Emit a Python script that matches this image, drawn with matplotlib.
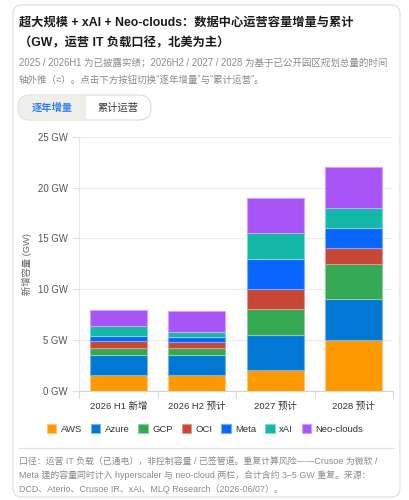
import matplotlib
matplotlib.use("Agg")
import matplotlib.pyplot as plt
from matplotlib.patches import FancyBboxPatch, Rectangle
from matplotlib.lines import Line2D
import matplotlib.colors as mcolors
import numpy as np

FAM = ['Liberation Sans', 'Noto Sans CJK SC', 'DejaVu Sans']
plt.rcParams['font.family'] = FAM

categories = ['2026 H1 新增', '2026 H2 预计', '2027 预计', '2028 预计']
series_names = ['AWS', 'Azure', 'GCP', 'OCI', 'Meta', 'xAI', 'Neo-clouds']
aws = [1.5, 1.5, 2.0, 5.0]
azure = [2.0, 2.0, 3.5, 4.0]
gcp = [0.7, 0.7, 2.5, 3.5]
oci = [0.7, 0.6, 2.0, 1.5]
meta = [0.5, 0.5, 3.0, 2.0]
xai = [1.0, 0.5, 2.5, 2.0]
neo = [1.5, 2.0, 3.5, 4.0]
series_values = [aws, azure, gcp, oci, meta, xai, neo]
colors = ['#FF9900', '#0078D4', '#34A853', '#C74634', '#0866FF', '#14B8A6', '#A855F7']
yticks = [0, 5, 10, 15, 20, 25]
ytick_labels = [f'{v} GW' for v in yticks]

W, H = 409, 500
fig = plt.figure(figsize=(W / 100, H / 100), dpi=100)

def fx(x):
    return x / W

def fy(y):
    return 1 - y / H

# card
card = FancyBboxPatch((fx(13), fy(497)), fx(400) - fx(13), fy(5) - fy(497),
                      boxstyle="round,pad=0,rounding_size=0.02",
                      transform=fig.transFigure, facecolor='white',
                      edgecolor='#e3e3e3', linewidth=1.0, zorder=-10)
fig.patches.append(card)

# title
fig.text(fx(19), fy(23), '超大规模 + xAI + Neo-clouds：数据中心运营容量增量与累计',
         fontsize=8.8, fontweight='bold', color='#1a1a1a', va='center', ha='left')
fig.text(fx(19), fy(43), '（GW，运营 IT 负载口径，北美为主）',
         fontsize=8.8, fontweight='bold', color='#1a1a1a', va='center', ha='left')

# subtitle
fig.text(fx(19), fy(63), '2025 / 2026H1 为已披露实绩；2026H2 / 2027 / 2028 为基于已公开园区规划总量的时间',
         fontsize=6.85, color='#8a8a8a', va='center', ha='left')
fig.text(fx(19), fy(80), '轴外推（≈）。点击下方按钮切换“逐年增量”与“累计运营”。',
         fontsize=6.85, color='#8a8a8a', va='center', ha='left')

# toggle pill
pill = FancyBboxPatch((fx(18), fy(120)), fx(151) - fx(18), fy(95) - fy(120),
                      boxstyle="round,pad=0,rounding_size=0.03",
                      transform=fig.transFigure, facecolor='white',
                      edgecolor='#dedede', linewidth=0.9, mutation_aspect=W / H, zorder=-5)
fig.patches.append(pill)
active = FancyBboxPatch((fx(18.5), fy(119.5)), fx(86) - fx(18.5), fy(95.5) - fy(119.5),
                        boxstyle="round,pad=0,rounding_size=0.03",
                        transform=fig.transFigure, facecolor='#f0eee9',
                        edgecolor='none', mutation_aspect=W / H, zorder=-4)
fig.patches.append(active)
fig.patches.append(Rectangle((fx(60), fy(119.5)), fx(86) - fx(60), fy(95.5) - fy(119.5),
                             transform=fig.transFigure, facecolor='#f0eee9', edgecolor='none',
                             zorder=-4))
fig.text(fx(52), fy(108), '逐年增量', fontsize=7.4, fontweight='bold', color='#2f80ed',
         va='center', ha='center')
fig.text(fx(118), fy(108), '累计运营', fontsize=7.4, color='#333333',
         va='center', ha='center')

# axes
ax = fig.add_axes([fx(79), fy(390.7), fx(393) - fx(79), fy(136.7) - fy(390.7)])
ax.patch.set_alpha(0)
x = np.arange(len(categories))
bottom = np.zeros(len(categories))
for name, vals, c in zip(series_names, series_values, colors):
    rgb = np.array(mcolors.to_rgb(c))
    edge = tuple(rgb + (1 - rgb) * 0.45)
    ax.bar(x, vals, bottom=bottom, width=0.72, color=c, edgecolor=edge,
           linewidth=0.8, label=name, zorder=3)
    bottom += np.array(vals)

ax.set_xlim(-0.5, len(categories) - 0.5)
ax.set_ylim(0, 25)
ax.set_yticks(yticks)
ax.set_yticklabels(ytick_labels, fontsize=6.9, color='#555555')
ax.set_xticks(x)
ax.set_xticklabels(categories, fontsize=6.8, color='#333333')
ax.set_xticks(np.arange(-0.5, len(categories)), minor=True)
ax.tick_params(axis='x', which='major', length=0, pad=8)
ax.tick_params(axis='x', which='minor', length=5, color='#d9d9d9', width=0.8)
ax.tick_params(axis='y', length=5, color='#e0e0e0', width=0.8, pad=3)
ax.grid(axis='y', color='#ececec', linewidth=0.8, zorder=0)
for s in ['top', 'right']:
    ax.spines[s].set_visible(False)
ax.spines['left'].set_color('#e6e6e6')
ax.spines['left'].set_linewidth(0.8)
ax.spines['bottom'].set_color('#d4d4d4')
ax.spines['bottom'].set_linewidth(0.8)
ax.set_ylabel('新增容量 (GW)', fontsize=6.7, color='#666666')
ax.yaxis.set_label_coords((32 - 79) / (393 - 79), 0.5)

# legend
handles, labels = ax.get_legend_handles_labels()
leg = fig.legend(handles, labels, loc='center', bbox_to_anchor=(fx(205), fy(429)),
                 ncol=7, frameon=False, fontsize=6.8, handlelength=1.0, handleheight=1.0,
                 handletextpad=0.45, columnspacing=0.95, borderpad=0)
for t in leg.get_texts():
    t.set_color('#333333')

# separator
fig.lines.append(Line2D([fx(19), fx(394)], [fy(448), fy(448)], transform=fig.transFigure,
                        color='#e3e3e3', linewidth=0.9))

# footnote
foot = ['口径：运营 IT 负载（已通电），非控制容量 / 已签管道。重复计算风险——Crusoe 为微软 /',
        'Meta 建的容量同时计入 hyperscaler 与 neo-cloud 两栏，合计含约 3–5 GW 重复。来源：',
        'DCD、Aterio、Crusoe IR、xAI、MLQ Research（2026-06/07）。']
for i, line in enumerate(foot):
    fig.text(fx(19), fy(462 + 13.5 * i), line, fontsize=6.4, color='#8a8a8a',
             va='center', ha='left')

fig.savefig('out.png', dpi=100)
